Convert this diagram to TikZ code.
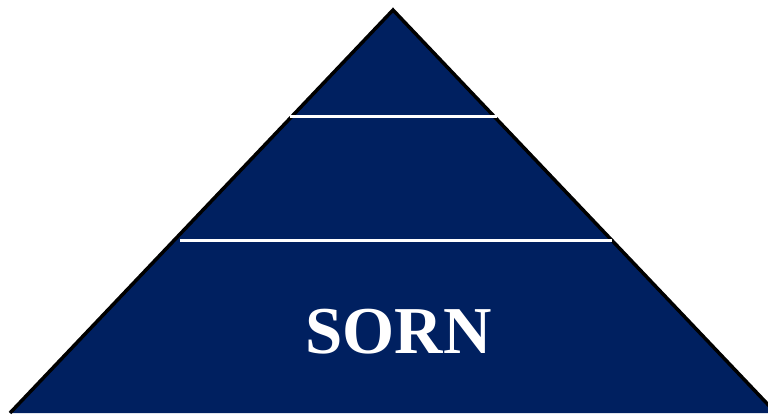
\documentclass[tikz,border=0pt]{standalone}
\usepackage{fontspec}
\setmainfont{Liberation Serif}
\definecolor{navy}{HTML}{002060}
\begin{document}
\begin{tikzpicture}[x=1pt,y=-1pt,
  tier/.style={draw=white,line width=3pt},
  lbl/.style={text=white,font=\fontsize{67}{70}\selectfont\bfseries,inner sep=0pt}]
\useasboundingbox (0,0) rectangle (768,415);
\begin{scope}
\clip (0,0) rectangle (768,415);
\coordinate (apex) at (393,10);
\coordinate (bl) at (10,413);
\coordinate (br) at (776,413);
\fill[navy] (apex) -- (bl) -- (br) -- cycle;
\draw[line width=3.5pt,line join=miter] (bl) -- (apex) -- (br);
\end{scope}
\coordinate (l1a) at (290,116);
\coordinate (l1b) at (497,116);
\coordinate (l2a) at (180,240);
\coordinate (l2b) at (612,240);
\draw[tier] (l1a) -- (l1b);
\draw[tier] (l2a) -- (l2b);
\node[lbl,anchor=base] (sorn) at (398.5,353) {SORN};
\end{tikzpicture}
\end{document}
